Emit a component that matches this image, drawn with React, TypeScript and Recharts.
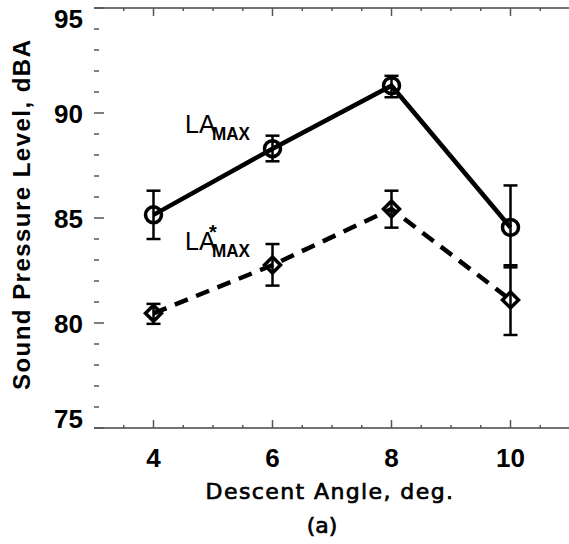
import React from 'react';
import { ComposedChart, Line, XAxis, YAxis, ErrorBar, ReferenceDot } from 'recharts';

const angles = [4, 6, 8, 10];
const laMax = [85.15, 88.3, 91.3, 84.55];
const laMaxErr = [[1.15, 1.15], [0.6, 0.62], [0.55, 0.47], [1.9, 2.0]];
const laStar = [80.46, 82.76, 85.43, 81.1];
const laStarErr = [[0.5, 0.45], [0.98, 1.0], [0.89, 0.87], [1.67, 1.65]];

const xMajor = [4, 6, 8, 10];
const xMinor = [3.5, 4, 4.5, 5, 5.5, 6, 6.5, 7, 7.5, 8, 8.5, 9, 9.5, 10, 10.5];
const yMajor = [75, 80, 85, 90, 95];
const yMinor = [75, 76, 77, 78, 79, 80, 81, 82, 83, 84, 85, 86, 87, 88, 89, 90, 91, 92, 93, 94, 95];

const data = angles.map((a, i) => ({
  angle: a,
  laMax: laMax[i],
  laMaxErr: laMaxErr[i],
  laStar: laStar[i],
  laStarErr: laStarErr[i],
}));

const TICK = '#555';
const FONT = '"Liberation Sans", Arial, sans-serif';
const HERSHEY = '"DejaVu Sans", sans-serif';

const BottomTick = ({ x, y, payload }: any) => {
  const major = xMajor.includes(payload.value);
  return (
    <g>
      <line x1={x} x2={x} y1={y} y2={y - (major ? 8 : 3)} stroke={TICK} strokeWidth={1.5} />
      {major && (
        <text x={x} y={y + 39} textAnchor="middle" fontFamily={FONT} fontWeight="bold" fontSize={26} fill="#000">
          {payload.value}
        </text>
      )}
    </g>
  );
};

const TopTick = ({ x, y, payload }: any) => {
  const major = xMajor.includes(payload.value);
  return <line x1={x} x2={x} y1={y} y2={y + (major ? 8 : 3)} stroke={TICK} strokeWidth={1.5} />;
};

const LeftTick = ({ x, y, payload }: any) => {
  const v = payload.value;
  const major = yMajor.includes(v);
  // end labels are nudged inside the frame, as in the original
  const shift = v === yMajor[yMajor.length - 1] ? 10 : v === yMajor[0] ? -10 : 0;
  return (
    <g>
      <line x1={x} x2={x + (major ? 10 : 5)} y1={y} y2={y} stroke={TICK} strokeWidth={1.5} />
      {major && (
        <text x={x - 11} y={y + 9.5 + shift} textAnchor="end" fontFamily={FONT} fontWeight="bold" fontSize={26} fill="#000">
          {v}
        </text>
      )}
    </g>
  );
};

const RightTick = ({ x, y, payload }: any) => {
  const major = yMajor.includes(payload.value);
  return <line x1={x} x2={x - (major ? 10 : 5)} y1={y} y2={y} stroke={TICK} strokeWidth={1.5} />;
};

const CircleDot = ({ cx, cy }: any) => (
  <circle cx={cx} cy={cy} r={8} fill="none" stroke="#000" strokeWidth={3.5} />
);

const DiamondDot = ({ cx, cy }: any) => (
  <path
    d={`M${cx},${cy - 8} L${cx + 8},${cy} L${cx},${cy + 8} L${cx - 8},${cy} Z`}
    fill="none"
    stroke="#000"
    strokeWidth={3.5}
  />
);

const LaLabel = (star: boolean) => (props: any) => {
  const { x, y } = props.viewBox;
  return (
    <g fill="#000" fontFamily={FONT}>
      <text x={x} y={y} fontSize={25}>LA</text>
      {star && (
        <text x={x + 24} y={y - 11} fontSize={20} fontWeight="bold">*</text>
      )}
      <text x={x + 27} y={y + 7} fontSize={19} fontWeight="bold" textLength={38} lengthAdjust="spacingAndGlyphs">
        MAX
      </text>
    </g>
  );
};

export default function App() {
  return (
    <div style={{ position: 'relative', width: 569, height: 544 }}>
      <style>{`body{margin:0}`}</style>
      <ComposedChart width={569} height={544} data={data} margin={{ top: 7, right: -2, bottom: 115, left: 93 }}>
        <XAxis
          dataKey="angle"
          type="number"
          domain={[3, 11]}
          ticks={xMinor}
          height={1}
          tickSize={0}
          tickMargin={0}
          tickLine={false}
          axisLine={{ stroke: '#444', strokeWidth: 1.5 }}
          tick={<BottomTick />}
          interval={0}
        />
        <XAxis
          xAxisId="top"
          orientation="top"
          dataKey="angle"
          type="number"
          domain={[3, 11]}
          ticks={xMinor}
          height={1}
          tickSize={0}
          tickMargin={0}
          tickLine={false}
          axisLine={{ stroke: '#444', strokeWidth: 1.5 }}
          tick={<TopTick />}
          interval={0}
        />
        <YAxis
          type="number"
          domain={[75, 95]}
          ticks={yMinor}
          width={1}
          tickSize={0}
          tickMargin={0}
          tickLine={false}
          axisLine={false}
          tick={<LeftTick />}
          interval={0}
        />
        <YAxis
          yAxisId="right"
          orientation="right"
          type="number"
          domain={[75, 95]}
          ticks={yMinor}
          width={1}
          tickSize={0}
          tickMargin={0}
          tickLine={false}
          axisLine={false}
          tick={<RightTick />}
          interval={0}
        />
        <Line
          dataKey="laMax"
          stroke="#000"
          strokeWidth={4.5}
          dot={<CircleDot />}
          activeDot={false}
          isAnimationActive={false}
        >
          <ErrorBar dataKey="laMaxErr" direction="y" width={7} stroke="#000" strokeWidth={2.5} />
        </Line>
        <Line
          dataKey="laStar"
          stroke="#000"
          strokeWidth={4.5}
          strokeDasharray="14 9"
          dot={<DiamondDot />}
          activeDot={false}
          isAnimationActive={false}
        >
          <ErrorBar dataKey="laStarErr" direction="y" width={7} stroke="#000" strokeWidth={2.5} />
        </Line>
        <ReferenceDot x={4.53} y={89.03} r={0} stroke="none" label={LaLabel(false)} />
        <ReferenceDot x={4.53} y={83.48} r={0} stroke="none" label={LaLabel(true)} />
      </ComposedChart>
      <svg width={569} height={544} style={{ position: 'absolute', left: 0, top: 0, pointerEvents: 'none' }}>
        <text
          transform="translate(29.5,215) rotate(-90)"
          textAnchor="middle"
          fontFamily={FONT}
          fontWeight="bold"
          fontSize={24}
          textLength={350}
          lengthAdjust="spacing"
        >
          Sound Pressure Level, dBA
        </text>
        <text
          x={330}
          y={499}
          textAnchor="middle"
          fontFamily={HERSHEY}
          fontSize={22}
          letterSpacing={1.4}
          stroke="#000"
          strokeWidth={0.7}
        >
          Descent Angle, deg.
        </text>
        <text x={322} y={533} textAnchor="middle" fontFamily={HERSHEY} fontSize={22} stroke="#000" strokeWidth={0.7}>
          (a)
        </text>
      </svg>
    </div>
  );
}
